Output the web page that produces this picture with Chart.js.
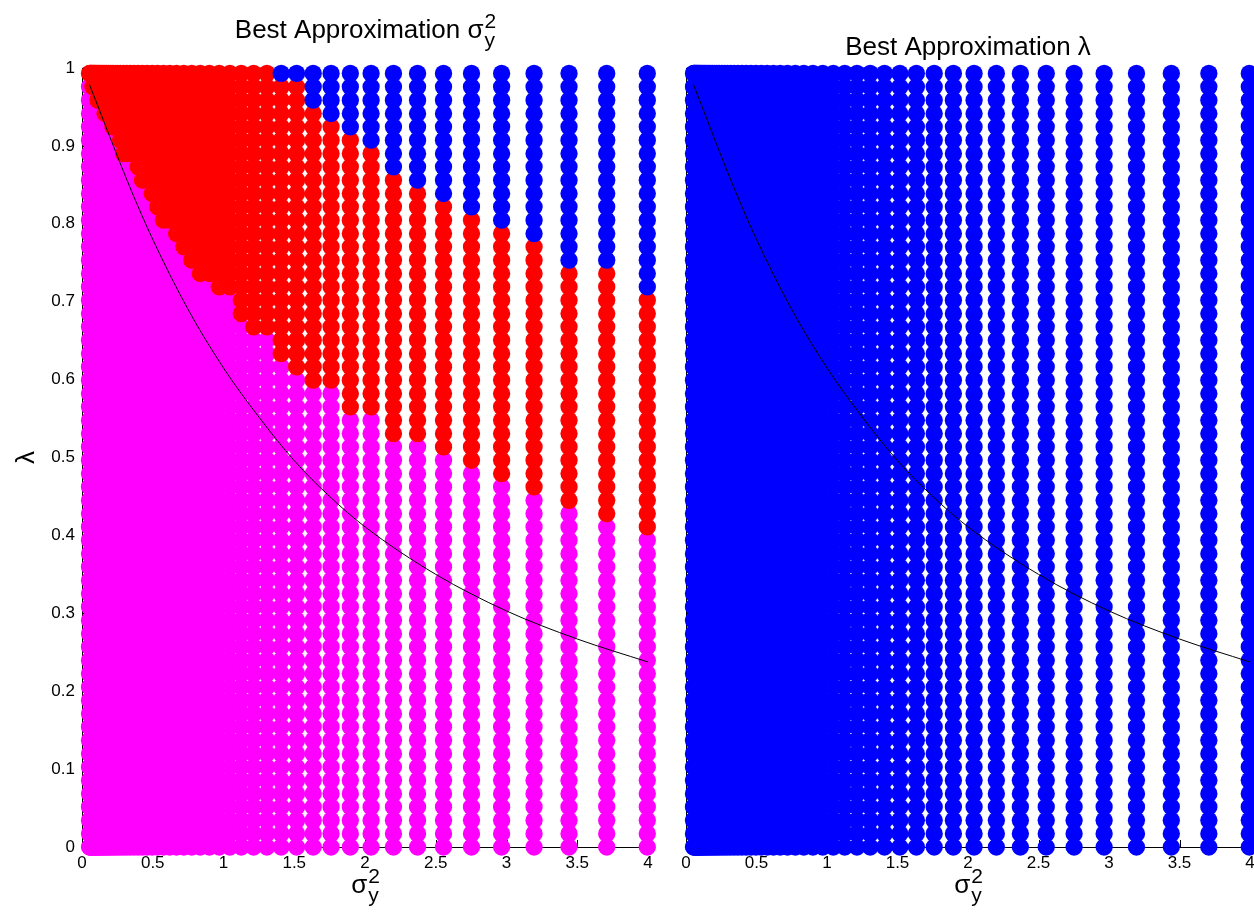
<!DOCTYPE html>
<html>
<head>
<meta charset="utf-8">
<script src="https://cdn.jsdelivr.net/npm/chart.js@4.4.1/dist/chart.umd.min.js"></script>
<style>
  html, body { margin: 0; padding: 0; background: #fff; overflow: hidden; width: 1254px; height: 913px; }
  .panel { position: absolute; top: 0; }
  #left { left: 0; }
  #right { left: 666px; }
</style>
</head>
<body>
<div class="panel" id="left"><canvas id="c1" width="666" height="913"></canvas></div>
<div class="panel" id="right"><canvas id="c2" width="600" height="913"></canvas></div>
<script>
// Grid of sigma_y^2 columns (x) and lambda rows (y)
const sigmaCols = [0.0531, 0.0572, 0.0616, 0.0664, 0.0715, 0.0771, 0.0830, 0.0894, 0.0963, 0.1038,
  0.1118, 0.1205, 0.1298, 0.1398, 0.1506, 0.1623, 0.1748, 0.1883, 0.2029, 0.2186,
  0.2355, 0.2537, 0.2733, 0.2945, 0.3172, 0.3418, 0.3682, 0.3967, 0.4274, 0.4604,
  0.4960, 0.5344, 0.5757, 0.6203, 0.6682, 0.7199, 0.7756, 0.8356, 0.9003, 0.9699,
  1.0449, 1.1257, 1.2128, 1.3066, 1.4077, 1.5166, 1.6339, 1.7603, 1.8964, 2.0431,
  2.2011, 2.3714, 2.5549, 2.7525, 2.9654, 3.1948, 3.4419, 3.7082, 3.9950];

const lambdaRows = [0, 0.0171, 0.0342, 0.0514, 0.0685, 0.0856, 0.1027, 0.1198, 0.1370, 0.1541,
  0.1712, 0.1883, 0.2054, 0.2226, 0.2397, 0.2568, 0.2739, 0.2910, 0.3082, 0.3253,
  0.3424, 0.3595, 0.3766, 0.3938, 0.4109, 0.4280, 0.4451, 0.4622, 0.4794, 0.4965,
  0.5136, 0.5307, 0.5478, 0.5650, 0.5821, 0.5992, 0.6163, 0.6334, 0.6506, 0.6677,
  0.6848, 0.7019, 0.7190, 0.7362, 0.7533, 0.7704, 0.7875, 0.8046, 0.8218, 0.8389,
  0.8560, 0.8731, 0.8902, 0.9074, 0.9245, 0.9416, 0.9587, 0.9758, 0.9930];

// Per column: how many rows (from the bottom) are magenta
const magentaRows = [58, 58, 58, 58, 58, 57, 57, 57, 57, 57,
  56, 56, 56, 56, 56, 55, 55, 55, 55, 54,
  54, 54, 53, 52, 52, 52, 52, 51, 50, 50,
  49, 48, 47, 47, 46, 45, 44, 43, 43, 42,
  42, 40, 39, 39, 37, 36, 35, 35, 33, 33,
  31, 31, 30, 29, 28, 27, 26, 25, 24];
// Per column: how many rows at the top are blue
const blueRows = [0, 0, 0, 0, 0, 0, 0, 0, 0, 0,
  0, 0, 0, 0, 0, 0, 0, 0, 0, 0,
  0, 0, 0, 0, 0, 0, 0, 0, 0, 0,
  0, 0, 0, 0, 0, 0, 0, 0, 0, 0,
  0, 0, 0, 0, 1, 1, 3, 4, 5, 6,
  8, 9, 10, 11, 12, 13, 15, 15, 17];

// Reference curve lambda(sigma_y^2)
const curveSigma  = [0.052, 0.10, 0.20, 0.35, 0.50, 0.75, 1.00, 1.25, 1.50, 1.75, 2.00, 2.50, 3.00, 3.50, 4.00];
const curveLambda = [0.979, 0.957, 0.910, 0.842, 0.780, 0.690, 0.615, 0.552, 0.496, 0.450, 0.411, 0.350, 0.303, 0.267, 0.2375];

const xTickStep = 0.5;
const yTickStep = 0.1;

const FONT = '"Liberation Sans", Arial, Helvetica, sans-serif';
const DOT_R = 8.65;

function gridPoints(pick) {
  const pts = [];
  sigmaCols.forEach((s, j) => {
    lambdaRows.forEach((l, i) => { if (pick(j, i)) pts.push({ x: s, y: l }); });
  });
  return pts;
}
const nRows = lambdaRows.length;
const magentaPts = gridPoints((j, i) => i < magentaRows[j]);
const redPts = gridPoints((j, i) => i >= magentaRows[j] && i < nRows - blueRows[j]);
const bluePts = gridPoints((j, i) => i >= nRows - blueRows[j]);
const allPts = gridPoints(() => true);
const curvePts = curveSigma.map((s, i) => ({ x: s, y: curveLambda[i] }));

function dotSet(label, pts, color, order) {
  return {
    label, data: pts, order, clip: false,
    pointRadius: DOT_R, pointHoverRadius: DOT_R, pointBorderWidth: 0,
    pointBackgroundColor: color, borderColor: color, backgroundColor: color
  };
}
function curveSet() {
  return {
    type: 'line', label: 'curve', data: curvePts, order: 0, clip: false,
    showLine: true, borderColor: '#000', borderWidth: 1, pointRadius: 0,
    cubicInterpolationMode: 'monotone', fill: false
  };
}

// Draws "base" followed by a stacked superscript / subscript
function drawScripted(ctx, base, sup, sub, cx, baseline, size, subSize) {
  ctx.save();
  ctx.fillStyle = '#000';
  ctx.textBaseline = 'alphabetic';
  ctx.font = size + 'px ' + FONT;
  const wb = ctx.measureText(base).width;
  ctx.font = subSize + 'px ' + FONT;
  const ws = Math.max(sup ? ctx.measureText(sup).width : 0, sub ? ctx.measureText(sub).width : 0);
  const x0 = cx - (wb + ws) / 2;
  ctx.font = size + 'px ' + FONT;
  ctx.textAlign = 'left';
  ctx.fillText(base, x0, baseline);
  ctx.font = subSize + 'px ' + FONT;
  if (sup) ctx.fillText(sup, x0 + wb + 1, baseline - 10);
  if (sub) ctx.fillText(sub, x0 + wb + 1, baseline + 9);
  ctx.restore();
}

// Inward tick marks, drawn under the markers
const inwardTicks = {
  id: 'inwardTicks',
  beforeDatasetsDraw(chart) {
    const { ctx, chartArea: a, scales } = chart;
    ctx.save();
    ctx.strokeStyle = '#000';
    ctx.lineWidth = 1;
    ctx.beginPath();
    scales.x.ticks.forEach(t => {
      const px = Math.round(scales.x.getPixelForValue(t.value)) + 0.5;
      ctx.moveTo(px, a.bottom); ctx.lineTo(px, a.bottom - 7);
    });
    scales.y.ticks.forEach(t => {
      const py = Math.round(scales.y.getPixelForValue(t.value)) + 0.5;
      ctx.moveTo(a.left, py); ctx.lineTo(a.left + 7, py);
    });
    ctx.stroke();
    ctx.restore();
  }
};

const labels = {
  id: 'labels',
  afterDraw(chart, args, opts) {
    const { ctx, chartArea: a } = chart;
    const cx = (a.left + a.right) / 2;
    if (opts.title === 'sigma') {
      drawScripted(ctx, 'Best Approximation \u03c3', '2', 'y', cx, 38, 26, 21);
    } else {
      drawScripted(ctx, 'Best Approximation \u03bb', '', '', cx, 55, 26, 21);
    }
    drawScripted(ctx, '\u03c3', '2', 'y', cx, 893, 26, 21);
    if (opts.ylabel) {
      ctx.save();
      ctx.translate(27, (a.top + a.bottom) / 2);
      ctx.rotate(-Math.PI / 2);
      ctx.font = '26px ' + FONT;
      ctx.fillStyle = '#000';
      ctx.textAlign = 'center';
      ctx.textBaseline = 'middle';
      ctx.fillText('\u03bb', 0, 0);
      ctx.restore();
    }
  }
};

const plainNumber = v => String(Number(v.toFixed(2)));

function makeOptions(isLeft) {
  return {
    responsive: false,
    animation: false,
    devicePixelRatio: 1,
    events: [],
    layout: { padding: { left: 0, right: isLeft ? 18 : 16, top: 68, bottom: 0 } },
    plugins: {
      legend: { display: false },
      tooltip: { enabled: false },
      labels: { title: isLeft ? 'sigma' : 'lambda', ylabel: isLeft }
    },
    scales: {
      x: {
        type: 'linear', min: 0, max: 4,
        ticks: { stepSize: xTickStep, color: '#000', font: { family: FONT, size: 17 }, padding: 6,
                 maxRotation: 0, autoSkip: false, callback: plainNumber },
        grid: { display: false, drawTicks: false },
        border: { display: true, color: '#000', width: 1 },
        afterFit: s => { s.height = 66; }
      },
      y: {
        type: 'linear', min: 0, max: 1,
        ticks: { display: isLeft, stepSize: yTickStep, color: '#000', font: { family: FONT, size: 17 }, padding: 7,
                 callback: plainNumber },
        grid: { display: false, drawTicks: false },
        border: { display: true, color: '#000', width: 1 },
        afterFit: s => { s.width = isLeft ? 82 : 20; }
      }
    }
  };
}

new Chart(document.getElementById('c1'), {
  type: 'scatter',
  data: {
    datasets: [
      curveSet(),
      dotSet('blue', bluePts, '#0000ff', 1),
      dotSet('red', redPts, '#ff0000', 2),
      dotSet('magenta', magentaPts, '#ff00ff', 3)
    ]
  },
  options: makeOptions(true),
  plugins: [inwardTicks, labels]
});

new Chart(document.getElementById('c2'), {
  type: 'scatter',
  data: {
    datasets: [
      curveSet(),
      dotSet('blue', allPts, '#0000ff', 1)
    ]
  },
  options: makeOptions(false),
  plugins: [inwardTicks, labels]
});
</script>
</body>
</html>
